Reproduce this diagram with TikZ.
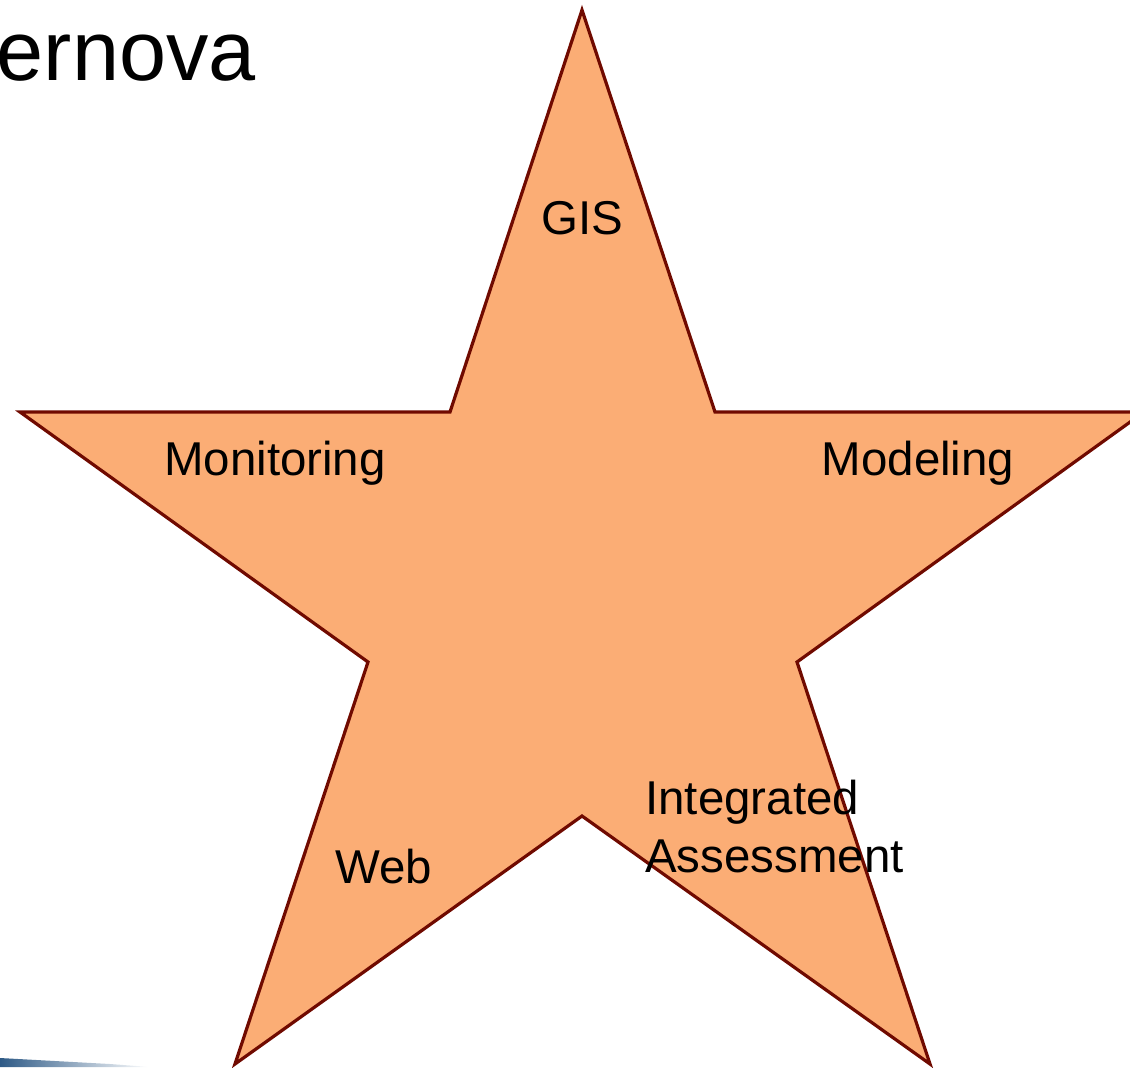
\documentclass[tikz,border=0pt]{standalone}
\usepackage{fontspec}
\setmainfont{Liberation Sans}
\definecolor{starfill}{HTML}{FBAD75}
\definecolor{staredge}{HTML}{700A00}
\definecolor{slideblue}{HTML}{2E5A86}
\begin{document}
\begin{tikzpicture}[x=0.75pt,y=-0.75pt,
  lbl/.style={font=\fontsize{35.6}{43.5}\selectfont, inner sep=0pt, text=black},
  startitle/.style={font=\fontsize{63.5}{70}\selectfont, inner sep=0pt, text=black}]
\useasboundingbox (0,0) rectangle (1130,1067);
\begin{scope}
\clip (0,0) rectangle (1130,1067);
% slide background trace at the bottom left
\shade[left color=slideblue, right color=white] (0,1058) -- (110,1064) -- (150,1067) -- (0,1067) -- cycle;
% five-pointed star
\coordinate (top) at (582,10);
\coordinate (iul) at (450,412);
\coordinate (ltip) at (20,412);
\coordinate (ill) at (368,662);
\coordinate (bl) at (235,1064);
\coordinate (ib) at (582,816);
\coordinate (br) at (930,1064);
\coordinate (ilr) at (797,662);
\coordinate (rtip) at (1144,412);
\coordinate (iur) at (715,412);
\filldraw[fill=starfill, draw=staredge, line width=2.4pt, line join=miter]
  (top) -- (iur) -- (rtip) -- (ilr) -- (br) -- (ib) -- (bl) -- (ill) -- (ltip) -- (iul) -- cycle;
\end{scope}
% title fragment
\node[startitle, anchor=base east] (title) at (256,80) {ernova};
% labels
\node[lbl] (gis) at (582,218) {GIS};
\node[lbl] (mon) at (275,463) {Monitoring};
\node[lbl] (mod) at (918,463) {Modeling};
\node[lbl] (web) at (384,867) {Web};
\node[lbl, anchor=north west, align=left] (ia) at (645,780) {Integrated\\Assessment};
\end{tikzpicture}
\end{document}
